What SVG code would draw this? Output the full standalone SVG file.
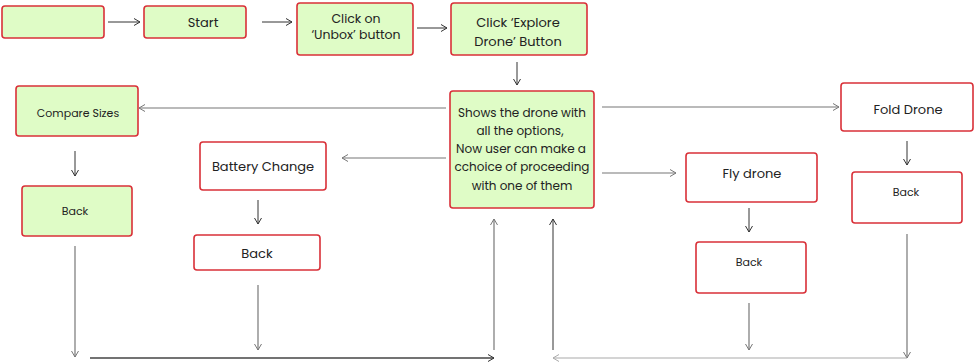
<svg xmlns="http://www.w3.org/2000/svg" width="974" height="363" viewBox="0 0 974 363">
<defs>
<marker id="ahd" markerWidth="10" markerHeight="10" refX="7" refY="4" orient="auto" markerUnits="userSpaceOnUse"><path d="M1,0.5 L7,4 L1,7.5" fill="none" stroke="#333" stroke-width="1"/></marker>
<marker id="ahg" markerWidth="10" markerHeight="10" refX="7" refY="4" orient="auto" markerUnits="userSpaceOnUse"><path d="M1,0.5 L7,4 L1,7.5" fill="none" stroke="#777" stroke-width="1"/></marker>
<marker id="ahl" markerWidth="10" markerHeight="10" refX="7" refY="4" orient="auto" markerUnits="userSpaceOnUse"><path d="M1,0.5 L7,4 L1,7.5" fill="none" stroke="#aaa" stroke-width="1"/></marker>
</defs>
<style>
.g{fill:#dffcc6;stroke:#d93038;stroke-width:1.6}
.w{fill:#fff;stroke:#d93038;stroke-width:1.6}
text{font-family:"Poppins","Open Sans","Liberation Sans",sans-serif;fill:#222;text-anchor:middle}
.c{stroke:#333;stroke-width:1;fill:none}
.cg{stroke:#777;stroke-width:1.2;fill:none}
.cl{stroke:#aaa;stroke-width:1.2;fill:none}
</style>
<rect width="974" height="363" fill="#fff"/>
<g id="n0"><rect class="g" x="2" y="6" width="102" height="32" rx="3"/></g>
<g id="start"><rect class="g" x="144" y="6" width="102" height="32" rx="3"/><text x="203" y="27" font-size="13">Start</text></g>
<g id="unbox"><rect class="g" x="297" y="3" width="116" height="52" rx="3"/><text x="356" y="23" font-size="12.5">Click on</text><text x="356" y="39" font-size="12.5">‘Unbox’ button</text></g>
<g id="explore"><rect class="g" x="451" y="3" width="136" height="52" rx="3"/><text x="518" y="27" font-size="13">Click ‘Explore</text><text x="518" y="46" font-size="13">Drone’ Button</text></g>
<g id="center"><rect class="g" x="450" y="91" width="144" height="117" rx="3"/>
<text x="522" y="117" font-size="12">Shows the drone with</text>
<text x="520" y="135" font-size="12">all the options,</text>
<text x="521" y="153" font-size="12">Now user can make a</text>
<text x="522" y="171" font-size="12">cchoice of proceeding</text>
<text x="522" y="190" font-size="12">with one of them</text></g>
<g id="compare"><rect class="g" x="16" y="86" width="122" height="50" rx="3"/><text x="78" y="117" font-size="11">Compare Sizes</text></g>
<g id="back1"><rect class="g" x="22" y="186" width="110" height="50" rx="3"/><text x="75" y="215" font-size="11">Back</text></g>
<g id="battery"><rect class="w" x="200" y="142" width="126" height="48" rx="3"/><text x="263" y="171" font-size="13">Battery Change</text></g>
<g id="back2"><rect class="w" x="194" y="235" width="126" height="35" rx="3"/><text x="257" y="258" font-size="13">Back</text></g>
<g id="fly"><rect class="w" x="686" y="153" width="131" height="49" rx="3"/><text x="752" y="178" font-size="13">Fly drone</text></g>
<g id="back3"><rect class="w" x="696" y="242" width="110" height="51" rx="3"/><text x="749" y="266" font-size="11">Back</text></g>
<g id="fold"><rect class="w" x="841" y="83" width="132" height="48" rx="3"/><text x="908" y="114" font-size="13">Fold Drone</text></g>
<g id="back4"><rect class="w" x="852" y="172" width="110" height="51" rx="3"/><text x="906" y="196" font-size="11">Back</text></g>
<g id="connectors">
<path class="c" d="M108 22H140" marker-end="url(#ahd)"/>
<path class="c" d="M262 22H292" marker-end="url(#ahd)"/>
<path class="c" d="M417 28H447" marker-end="url(#ahd)"/>
<path class="c" d="M517 62V85" marker-end="url(#ahd)"/>
<path class="cg" d="M446 108H139" marker-end="url(#ahg)"/>
<path class="cg" d="M446 158H342" marker-end="url(#ahg)"/>
<path class="cg" d="M602 107H839" marker-end="url(#ahg)"/>
<path class="cg" d="M602 173H676" marker-end="url(#ahg)"/>
<path class="c" d="M75 151V176" marker-end="url(#ahd)"/>
<path class="c" d="M258 200V224" marker-end="url(#ahd)"/>
<path class="c" d="M749 208V232" marker-end="url(#ahd)"/>
<path class="c" d="M907 141V165" marker-end="url(#ahd)"/>
<path class="cg" d="M75 246V357" marker-end="url(#ahg)"/>
<path class="cg" d="M258 285V350" marker-end="url(#ahg)"/>
<path class="cg" d="M749 303V350" marker-end="url(#ahg)"/>
<path class="cg" d="M907 234V358" marker-end="url(#ahg)"/>
<path d="M90 358H494" stroke="#444" stroke-width="1.5" fill="none" marker-end="url(#ahd)"/>
<path class="cg" d="M494 350V219" marker-end="url(#ahg)"/>
<path class="c" d="M553 350V219" stroke="#111" marker-end="url(#ahd)"/>
<path class="cl" d="M907 358H553" marker-end="url(#ahl)"/>
</g>
</svg>
